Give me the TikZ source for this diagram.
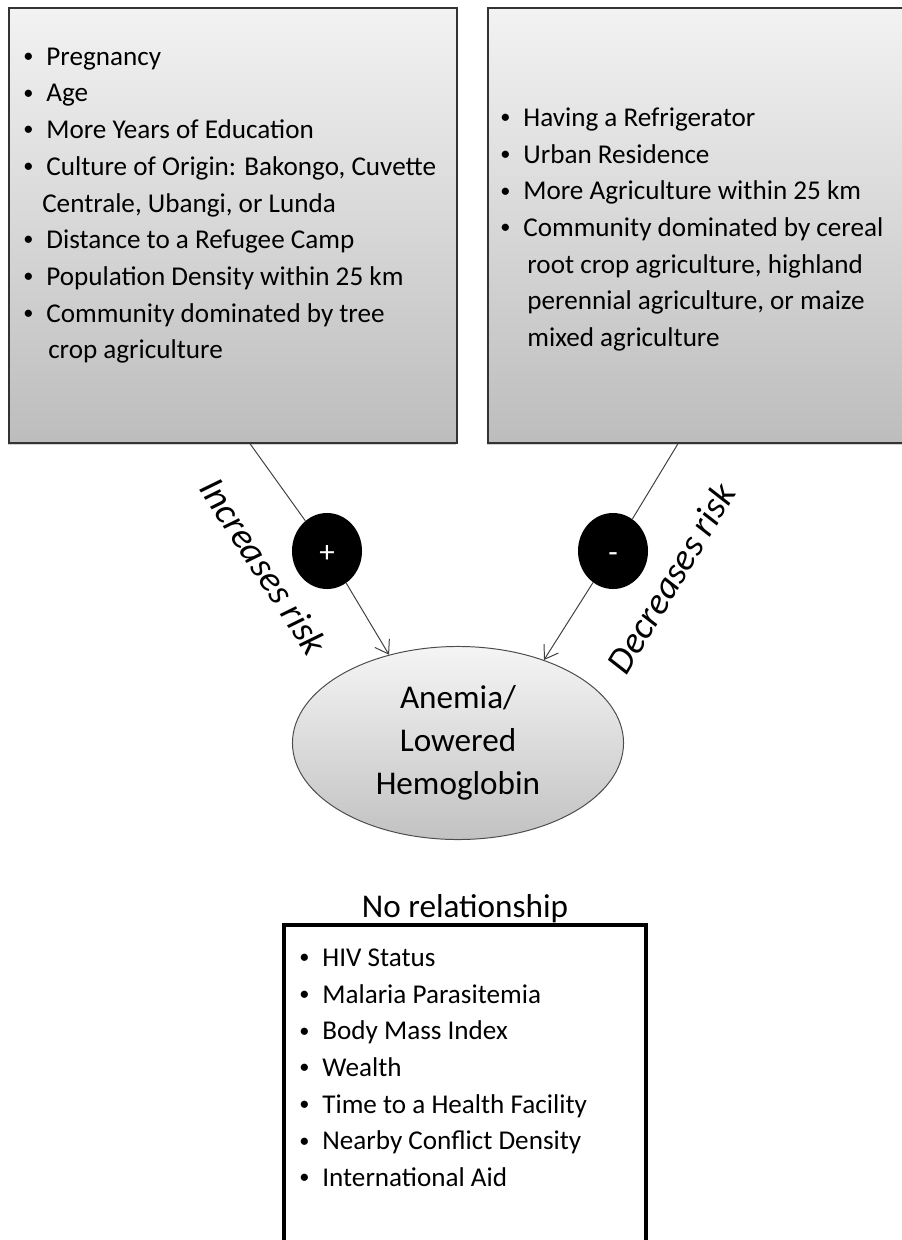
\documentclass[tikz,border=0pt]{standalone}
\usepackage{fontspec}
\usepackage{graphicx}
\setmainfont{Carlito}
\usetikzlibrary{shapes, arrows.meta, positioning, shadows}

\newcommand{\itm}{\makebox[0.85em][l]{\raisebox{0.1em}{\scalebox{0.75}{\textbullet}}}}

\begin{document}
\begin{tikzpicture}[x=0.025cm, y=-0.025cm]
    \tikzstyle{entity} = [rectangle, draw=black!80, line width=0.9pt, top color=black!5, bottom color=black!26, minimum height=10.875cm, drop shadow={shadow xshift=-0.6pt, shadow yshift=-1.5pt, opacity=0.35}]
    \tikzstyle{items} = [inner sep=0pt, anchor=north west, align=left, font=\fontsize{19.3}{26.1}\selectfont]
    \tikzstyle{sign} = [ellipse, fill=black, minimum width=1.75cm, minimum height=1.9cm, inner sep=0pt, text=white, text height=0.85em, text depth=0pt, font=\fontsize{22}{24}\selectfont]
    \tikzstyle{line} = [draw=black!75, line width=0.7pt]
    \tikzstyle{arrow} = [line, -{Straight Barb[length=9pt,width=12pt]}]
    \tikzstyle{risk} = [font=\itshape\fontsize{26.5}{30}\selectfont]

    \useasboundingbox (0,0) rectangle (901,1240);

    % what raises or lowers the risk
    \node (up)[entity, minimum width=11.2cm] at (233,225.5) {};
    \node (down)[entity, minimum width=10.6cm] at (700,225.5) {};
    \node (uplist)[items] at (23,47.5) {\itm Pregnancy\\ \itm Age\\ \itm More Years of Education\\ \itm Culture of Origin: Bakongo, Cuvette\\ \hspace*{0.7em}Centrale, Ubangi, or Lunda\\ \itm Distance to a Refugee Camp\\ \itm Population Density within 25 km\\ \itm Community dominated by tree\\ \hspace*{0.92em}crop agriculture};
    \node (downlist)[items] at (500,107.5) {\itm Having a Refrigerator\\ \itm Urban Residence\\ \itm More Agriculture within 25 km\\ \itm Community dominated by cereal\\ \hspace*{1em}root crop agriculture, highland\\ \hspace*{1em}perennial agriculture, or maize\\ \hspace*{1em}mixed agriculture};

    % outcome
    \node (anemia)[ellipse, draw=black!70, line width=0.7pt, top color=black!4, bottom color=black!24, minimum width=8.275cm, minimum height=4.825cm, inner sep=0pt, align=center, font=\fontsize{23.6}{30.6}\selectfont] at (458,743) {Anemia/\\Lowered\\Hemoglobin};

    \node (plus)[sign] at (327,551) {\raisebox{-4pt}{+}};
    \node (minus)[sign] at (613,551) {\raisebox{-4pt}{-}};
    \coordinate (upout) at ([xshift=0.425cm]up.south);
    \coordinate (downout) at ([xshift=-0.55cm]down.south);
    \draw [line] (upout) -- (plus);
    \draw [arrow] (plus) -- (anemia.128);
    \draw [line] (downout) -- (minus);
    \draw [arrow] (minus) -- (anemia.44);
    \node (inc)[risk, rotate=-57] at (264,566) {Increases risk};
    \node (dec)[risk, rotate=59] at (671,578) {Decreases risk};

    % no relationship
    \node (none)[rectangle, draw=black, line width=2.8pt, fill=white, minimum width=9.05cm, minimum height=8.375cm] at (465,1092.5) {};
    \node (nonetitle)[anchor=base, font=\fontsize{23.6}{28}\selectfont] at (465,917) {No relationship};
    \node (nonelist)[items] at (299,948.5) {\itm HIV Status\\ \itm Malaria Parasitemia\\ \itm Body Mass Index\\ \itm Wealth\\ \itm Time to a Health Facility\\ \itm Nearby Conflict Density\\ \itm International Aid};
\end{tikzpicture}
\end{document}
